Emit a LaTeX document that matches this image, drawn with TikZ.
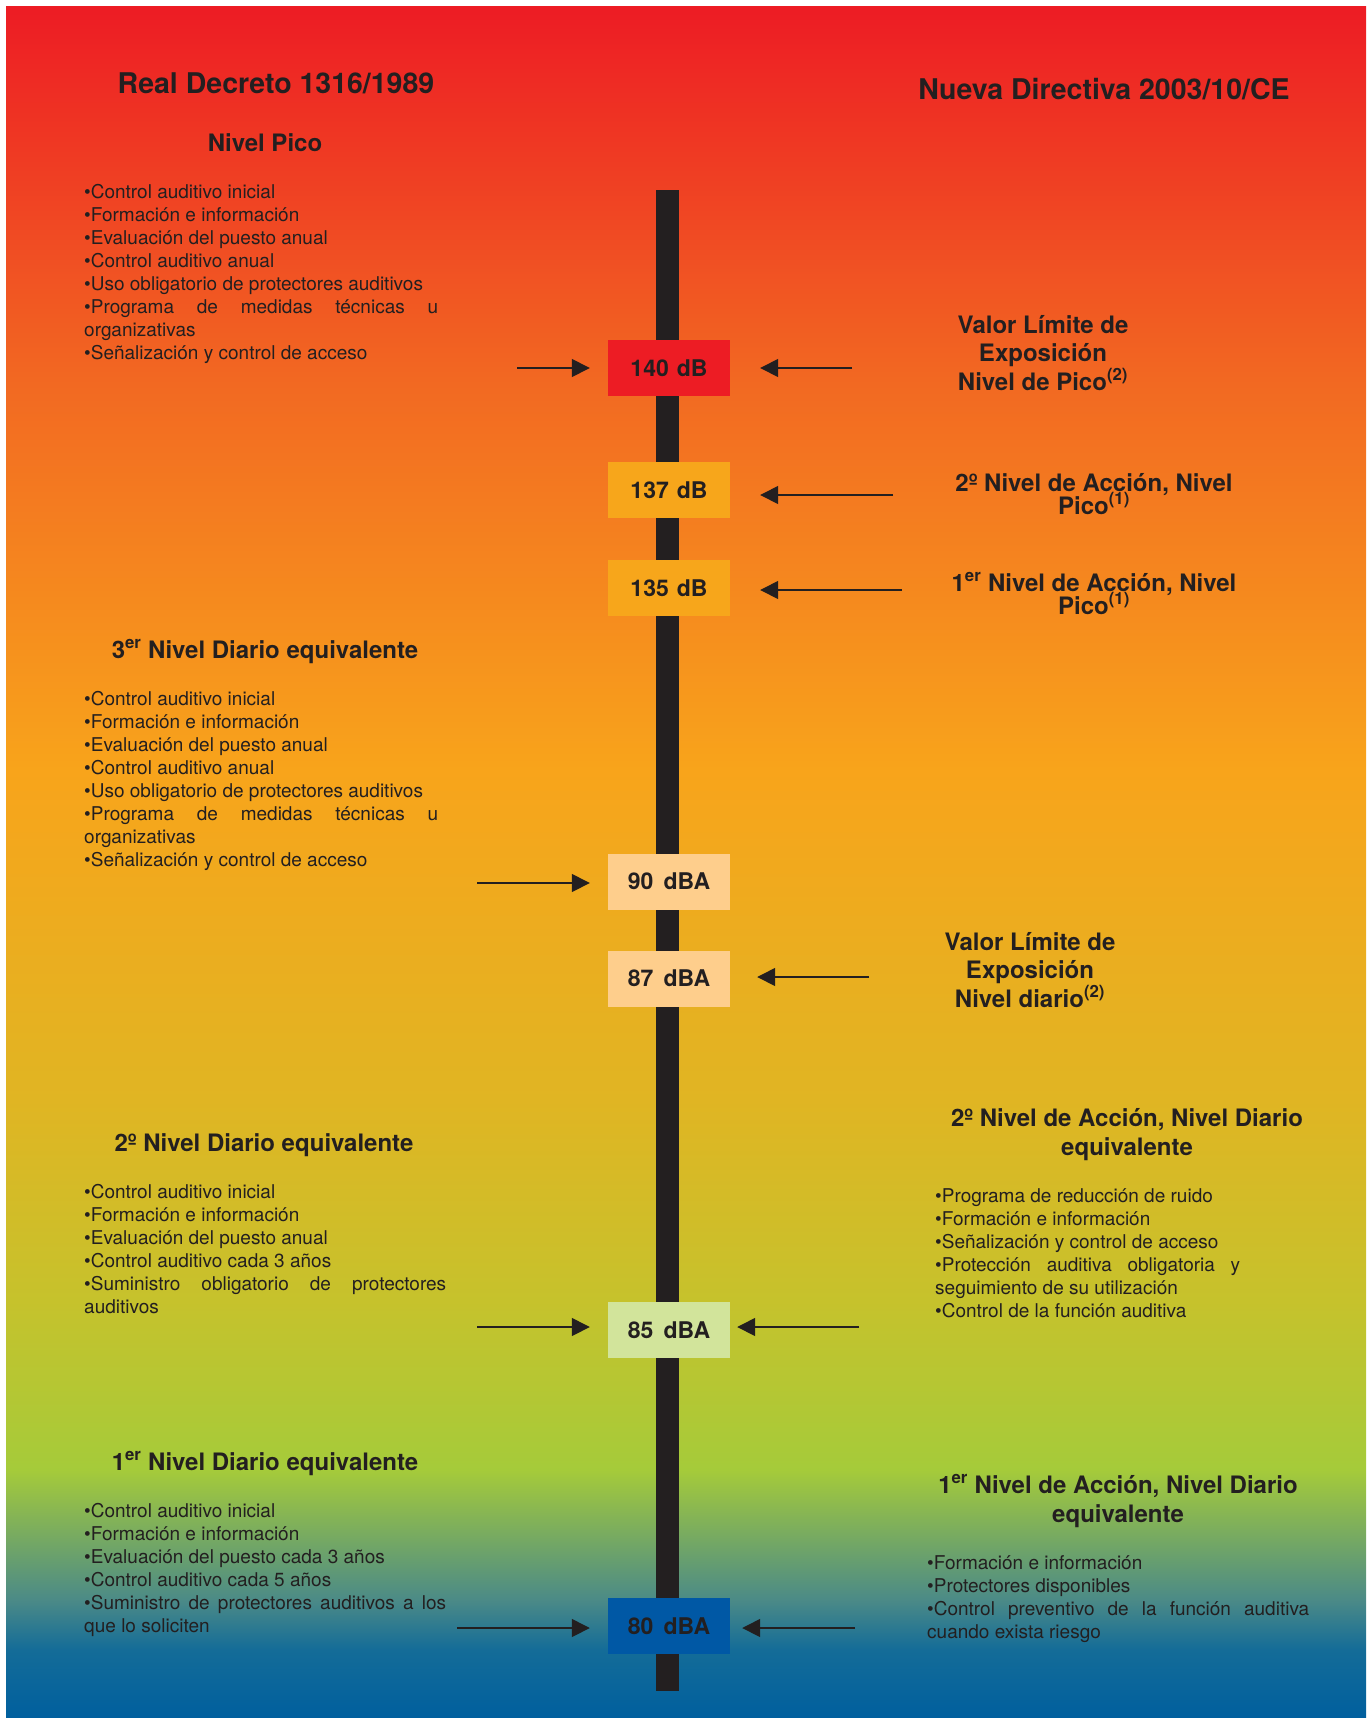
\documentclass[tikz,border=0pt]{standalone}
\usepackage{fontspec}
\setmainfont{TeX Gyre Heros}
\usetikzlibrary{arrows.meta}
\hyphenpenalty=10000
\tolerance=10000
\definecolor{tinta}{RGB}{35,31,32}
\definecolor{rojo}{RGB}{237,28,36}
\definecolor{naranja}{RGB}{247,166,27}
\definecolor{melocoton}{RGB}{254,206,140}
\definecolor{verdeclaro}{RGB}{210,228,155}
\definecolor{azul}{RGB}{0,88,165}
\definecolor{f1}{RGB}{0,95,158}
\definecolor{f2}{RGB}{20,108,152}
\definecolor{f3}{RGB}{75,138,135}
\definecolor{f4}{RGB}{165,203,58}
\definecolor{f5}{RGB}{198,194,44}
\definecolor{f6}{RGB}{224,181,35}
\definecolor{f7}{RGB}{248,164,27}
\definecolor{f8}{RGB}{242,105,34}
\definecolor{f9}{RGB}{237,28,36}
\pgfdeclareverticalshading{fondo}{100bp}{color(0bp)=(f1); color(25bp)=(f1);
  color(27bp)=(f2); color(28.45bp)=(f3); color(32.25bp)=(f4); color(37.2bp)=(f5);
  color(43.06bp)=(f6); color(52.7bp)=(f7); color(63.98bp)=(f8); color(75bp)=(f9);
  color(100bp)=(f9)}
\newcommand\tam[2]{\fontsize{#1}{#2}\selectfont\lineskiplimit=-20pt}
\begin{document}
\begin{tikzpicture}[x=1pt,y=-1pt,
    caja/.style={minimum width=122pt,minimum height=56pt,inner sep=0pt,
      font=\bfseries\tam{23}{23},text=tinta},
    flecha/.style={draw=tinta,line width=1.5pt,-{Triangle[length=18pt,width=18pt]}},
    lista/.style={anchor=base west,inner sep=0pt,align=justify,
      font=\tam{19}{23.1},text=tinta},
    titulo/.style={anchor=base,inner sep=0pt,align=center,
      font=\bfseries\tam{24}{28.5},text=tinta}]
    \useasboundingbox (0,0) rectangle (1371,1718);
    %Fondo degradado
    \shade[shading=fondo] (6,7) rectangle (1366,1718);
    %Barra central
    \fill[tinta] (656,190) rectangle (679,1691);
    %Cajas de nivel
    \foreach \nom/\y/\txt/\col in {140/368/140\hspace{.35em}dB/rojo,
        137/490/137\hspace{.35em}dB/naranja, 135/588/135\hspace{.35em}dB/naranja,
        90/881.5/90\hspace{.45em}dBA/melocoton, 87/978.5/87\hspace{.45em}dBA/melocoton,
        85/1330/85\hspace{.45em}dBA/verdeclaro, 80/1626/80\hspace{.45em}dBA/azul}
    \node[caja,fill=\col] (b\nom) at (669,\y) {\txt};
    %Flechas izquierda
    \foreach \nom/\y/\xc in {140/368/517, 90/883/477, 85/1327/477, 80/1628/457}
    {
        \coordinate (i\nom) at (\xc,\y);
        \draw[flecha,shorten >=18pt] (i\nom) -- (b\nom.west |- i\nom);
    }
    %Flechas derecha
    \foreach \nom/\y/\xc/\sh in {140/368/852/30, 137/495/893/30, 135/590/902/30,
        87/977/869/27, 85/1327/859/7, 80/1628/855/12}
    {
        \coordinate (d\nom) at (\xc,\y);
        \draw[flecha,shorten >=\sh pt] (d\nom) -- (b\nom.east |- d\nom);
    }
    %Titulos
    \node[titulo,font=\bfseries\tam{28.5}{30}] (rd) at (276,94) {Real Decreto 1316/1989};
    \node[titulo,font=\bfseries\tam{28.5}{30}] (nd) at (1104,100) {Nueva Directiva 2003/10/CE};
    %Columna izquierda
    \node[titulo] (pico) at (265,151) {Nivel Pico};
    \node[lista,text width=354pt] (l1) at (84,198) {%
        •Control auditivo inicial\\
        •Formación e información\\
        •Evaluación del puesto anual\\
        •Control auditivo anual\\
        •Uso obligatorio de protectores auditivos\\
        •Programa de medidas técnicas u organizativas\\
        •Señalización y control de acceso};
    \node[titulo] (n3) at (265,658) {3\textsuperscript{er} Nivel Diario equivalente};
    \node[lista,text width=354pt] (l2) at (84,705) {%
        •Control auditivo inicial\\
        •Formación e información\\
        •Evaluación del puesto anual\\
        •Control auditivo anual\\
        •Uso obligatorio de protectores auditivos\\
        •Programa de medidas técnicas u organizativas\\
        •Señalización y control de acceso};
    \node[titulo] (n2) at (264,1151) {2º Nivel Diario equivalente};
    \node[lista,text width=362pt] (l3) at (84,1198) {%
        •Control auditivo inicial\\
        •Formación e información\\
        •Evaluación del puesto anual\\
        •Control auditivo cada 3 años\\
        •Suministro obligatorio de protectores auditivos};
    \node[titulo] (n1) at (265,1470) {1\textsuperscript{er} Nivel Diario equivalente};
    \node[lista,text width=362pt] (l4) at (84,1517) {%
        •Control auditivo inicial\\
        •Formación e información\\
        •Evaluación del puesto cada 3 años\\
        •Control auditivo cada 5 años\\
        •Suministro de protectores auditivos a los que lo soliciten};
    %Columna derecha (la base es la ultima linea)
    \node[titulo] (vlp) at (1043,390) {Valor Límite de\\Exposición\\Nivel de Pico\textsuperscript{(2)}};
    \node[titulo,font=\bfseries\tam{24}{23}] (a2p) at (1094,514) {2º Nivel de Acción, Nivel\\Pico\textsuperscript{(1)}};
    \node[titulo,font=\bfseries\tam{24}{23}] (a1p) at (1094,614) {1\textsuperscript{er} Nivel de Acción, Nivel\\Pico\textsuperscript{(1)}};
    \node[titulo] (vld) at (1030,1007) {Valor Límite de\\Exposición\\Nivel diario\textsuperscript{(2)}};
    \node[titulo,font=\bfseries\tam{24}{29.6}] (a2d) at (1127,1155.6) {2º Nivel de Acción, Nivel Diario\\equivalente};
    \node[lista,text width=305pt] (l5) at (935,1202) {%
        •Programa de reducción de ruido\\
        •Formación e información\\
        •Señalización y control de acceso\\
        •Protección auditiva obligatoria y seguimiento de su utilización\\
        •Control de la función auditiva};
    \node[titulo,font=\bfseries\tam{24}{29.6}] (a1d) at (1118,1522.6) {1\textsuperscript{er} Nivel de Acción, Nivel Diario\\equivalente};
    \node[lista,text width=382pt] (l6) at (927,1569) {%
        •Formación e información\\
        •Protectores disponibles\\
        •Control preventivo de la función auditiva cuando exista riesgo};
\end{tikzpicture}
\end{document}
